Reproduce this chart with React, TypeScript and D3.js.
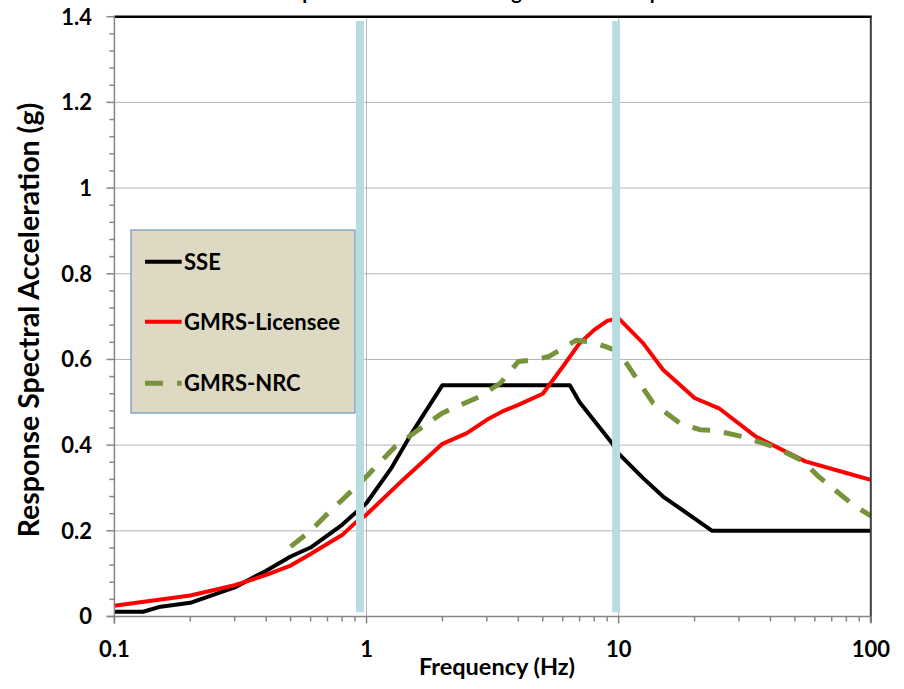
import React from "react";
import * as d3 from "d3";

// Frequency (Hz) and spectral acceleration (g) for each spectrum
const sseFreq = [0.1, 0.13, 0.15, 0.2, 0.3, 0.4, 0.5, 0.6, 0.8, 0.9, 1.0, 1.25, 1.5, 2.0, 6.4, 7.0, 9.4, 10, 12.5, 15, 23.5, 100];
const sseAcc = [0.011, 0.011, 0.022, 0.032, 0.068, 0.107, 0.14, 0.161, 0.214, 0.241, 0.265, 0.345, 0.425, 0.54, 0.54, 0.5, 0.405, 0.38, 0.323, 0.28, 0.2, 0.2];

const licFreq = [0.1, 0.15, 0.2, 0.3, 0.4, 0.5, 0.6, 0.7, 0.8, 0.9, 1.0, 1.4, 2.0, 2.5, 3.0, 3.5, 4.0, 5.0, 6.0, 7.0, 8.0, 9.0, 10, 12.5, 15, 20, 25, 35, 55, 80, 100];
const licAcc = [0.025, 0.039, 0.049, 0.073, 0.097, 0.119, 0.146, 0.17, 0.19, 0.218, 0.238, 0.32, 0.403, 0.428, 0.459, 0.48, 0.494, 0.52, 0.583, 0.638, 0.669, 0.69, 0.696, 0.638, 0.576, 0.51, 0.486, 0.42, 0.362, 0.335, 0.319];

const nrcFreq = [0.5, 0.6, 0.7, 0.8, 1.0, 1.3, 1.67, 2.0, 2.8, 3.4, 4.0, 4.6, 5.3, 6.0, 6.8, 7.7, 8.9, 10, 11.4, 13.7, 17.5, 21, 24, 31, 41, 54, 62, 85, 100];
const nrcAcc = [0.163, 0.2, 0.24, 0.272, 0.327, 0.397, 0.443, 0.475, 0.513, 0.545, 0.595, 0.599, 0.607, 0.626, 0.645, 0.641, 0.63, 0.618, 0.568, 0.498, 0.451, 0.436, 0.434, 0.42, 0.397, 0.362, 0.327, 0.261, 0.235];

// Highlighted frequency markers (vertical bands)
const markerFreq = [0.942, 9.77];
const markerRange = [0.01, 1.39];

const xTickValues = [0.1, 1, 10, 100];
const xTickLabels = ["0.1", "1", "10", "100"];
const yTickValues = [0, 0.2, 0.4, 0.6, 0.8, 1, 1.2, 1.4];
const yTickLabels = ["0", "0.2", "0.4", "0.6", "0.8", "1", "1.2", "1.4"];

const seriesNames = ["SSE", "GMRS-Licensee", "GMRS-NRC"];

const W = 904;
const H = 689;
const left = 114.4;
const right = 870.8;
const top = 16.7;
const bottom = 616.5;

const FONT = "Lato, 'Open Sans', sans-serif";

export default function App() {
  const x = d3.scaleLog().domain([0.1, 100]).range([left, right]);
  const y = d3.scaleLinear().domain([0, 1.4]).range([bottom, top]);

  const line = d3
    .line<[number, number]>()
    .x((d) => x(d[0]))
    .y((d) => y(d[1]));

  const zip = (a: number[], b: number[]) => a.map((v, i) => [v, b[i]] as [number, number]);

  const minorX: number[] = [];
  for (const dec of [0.1, 1, 10]) {
    for (let k = 2; k <= 9; k++) minorX.push(dec * k);
  }
  const minorY = d3.range(0, 1.4001, 0.04).filter((v) => Math.abs(v / 0.2 - Math.round(v / 0.2)) > 1e-6);

  const gridColor = "#b4b4b4";
  const axisColor = "#868686";

  const legendX = 131;
  const legendY = 230;
  const legendRows = [261.7, 321.7, 383.3];
  const legendColors = ["#000000", "#ff0000", "#77933c"];

  return (
    <svg
      width={W}
      height={H}
      style={{ position: "absolute", left: 0, top: 0, background: "#fff" }}
      fontFamily={FONT}
    >
      <rect x={0} y={0} width={W} height={H} fill="#ffffff" />

      {/* chart title, running off the top edge */}
      <text x={261} y={-1} fontSize={20} fontWeight={700} fill="#000">
        Comparison of SSE and Design GMRS Site Spectra
      </text>

      {/* horizontal gridlines */}
      {yTickValues.slice(1, -1).map((v) => (
        <line key={"gy" + v} x1={left} x2={right} y1={y(v)} y2={y(v)} stroke={gridColor} strokeWidth={1} />
      ))}
      {/* vertical gridlines at decades */}
      {xTickValues.slice(1, -1).map((v) => (
        <line key={"gx" + v} x1={x(v)} x2={x(v)} y1={top} y2={bottom} stroke={gridColor} strokeWidth={1} />
      ))}

      {/* spectra */}
      <path d={line(zip(sseFreq, sseAcc)) || ""} fill="none" stroke="#000" strokeWidth={4} strokeLinejoin="round" />
      <path d={line(zip(licFreq, licAcc)) || ""} fill="none" stroke="#ff0000" strokeWidth={4} strokeLinejoin="round" />
      <path
        d={line(zip(nrcFreq, nrcAcc)) || ""}
        fill="none"
        stroke="#77933c"
        strokeWidth={5}
        strokeDasharray="18 14"
        strokeLinejoin="round"
      />

      {/* marker bands */}
      {markerFreq.map((f) => (
        <rect
          key={"m" + f}
          x={x(f) - 4}
          width={8}
          y={y(markerRange[1])}
          height={y(markerRange[0]) - y(markerRange[1])}
          fill="#b7dde0"
        />
      ))}

      {/* plot frame */}
      <line x1={left} x2={right + 1} y1={top} y2={top} stroke="#000" strokeWidth={2.5} />
      <line x1={right} x2={right} y1={top} y2={bottom + 6} stroke="#3c3c3c" strokeWidth={2} />
      <line x1={left} x2={left} y1={top} y2={bottom + 7} stroke={axisColor} strokeWidth={1.5} />
      <line x1={left - 7} x2={right} y1={bottom} y2={bottom} stroke={axisColor} strokeWidth={1.5} />

      {/* y ticks */}
      {yTickValues.map((v) => (
        <line key={"ty" + v} x1={left - 8} x2={left} y1={y(v)} y2={y(v)} stroke={axisColor} strokeWidth={1.5} />
      ))}
      {minorY.map((v) => (
        <line key={"my" + v} x1={left - 5} x2={left} y1={y(v)} y2={y(v)} stroke={axisColor} strokeWidth={1.5} />
      ))}
      {yTickValues.map((v, i) => (
        <text
          key={"ly" + v}
          x={92}
          y={y(v)}
          dy="0.36em"
          textAnchor="end"
          fontSize={22}
          fontWeight={700}
          fill="#000"
        >
          {yTickLabels[i]}
        </text>
      ))}

      {/* x ticks */}
      {xTickValues.map((v) => (
        <line key={"tx" + v} x1={x(v)} x2={x(v)} y1={bottom} y2={bottom + 7} stroke={axisColor} strokeWidth={1.5} />
      ))}
      {minorX.map((v) => (
        <line key={"mx" + v} x1={x(v)} x2={x(v)} y1={bottom} y2={bottom + 5} stroke={axisColor} strokeWidth={1.5} />
      ))}
      {xTickValues.map((v, i) => (
        <text key={"lx" + v} x={x(v)} y={657} textAnchor="middle" fontSize={22} fontWeight={700} fill="#000">
          {xTickLabels[i]}
        </text>
      ))}

      {/* axis titles */}
      <text x={497} y={675} textAnchor="middle" fontSize={23.5} fontWeight={700} fill="#000">
        Frequency (Hz)
      </text>
      <text
        transform={`translate(39, ${320}) rotate(-90)`}
        textAnchor="middle"
        fontSize={28.5}
        fontWeight={700}
        fill="#000"
      >
        Response Spectral Acceleration (g)
      </text>

      {/* legend */}
      <rect x={legendX} y={legendY} width={224} height={183} fill="#ddd9c3" stroke="#6e93cc" strokeWidth={1.2} />
      {seriesNames.map((name, i) => (
        <g key={name}>
          <line
            x1={145}
            x2={181.7}
            y1={legendRows[i]}
            y2={legendRows[i]}
            stroke={legendColors[i]}
            strokeWidth={i === 2 ? 5 : 4}
            strokeDasharray={i === 2 ? "18 14" : undefined}
          />
          <text x={184} y={legendRows[i]} dy="0.36em" fontSize={22} fontWeight={700} fill="#000">
            {name}
          </text>
        </g>
      ))}
    </svg>
  );
}
